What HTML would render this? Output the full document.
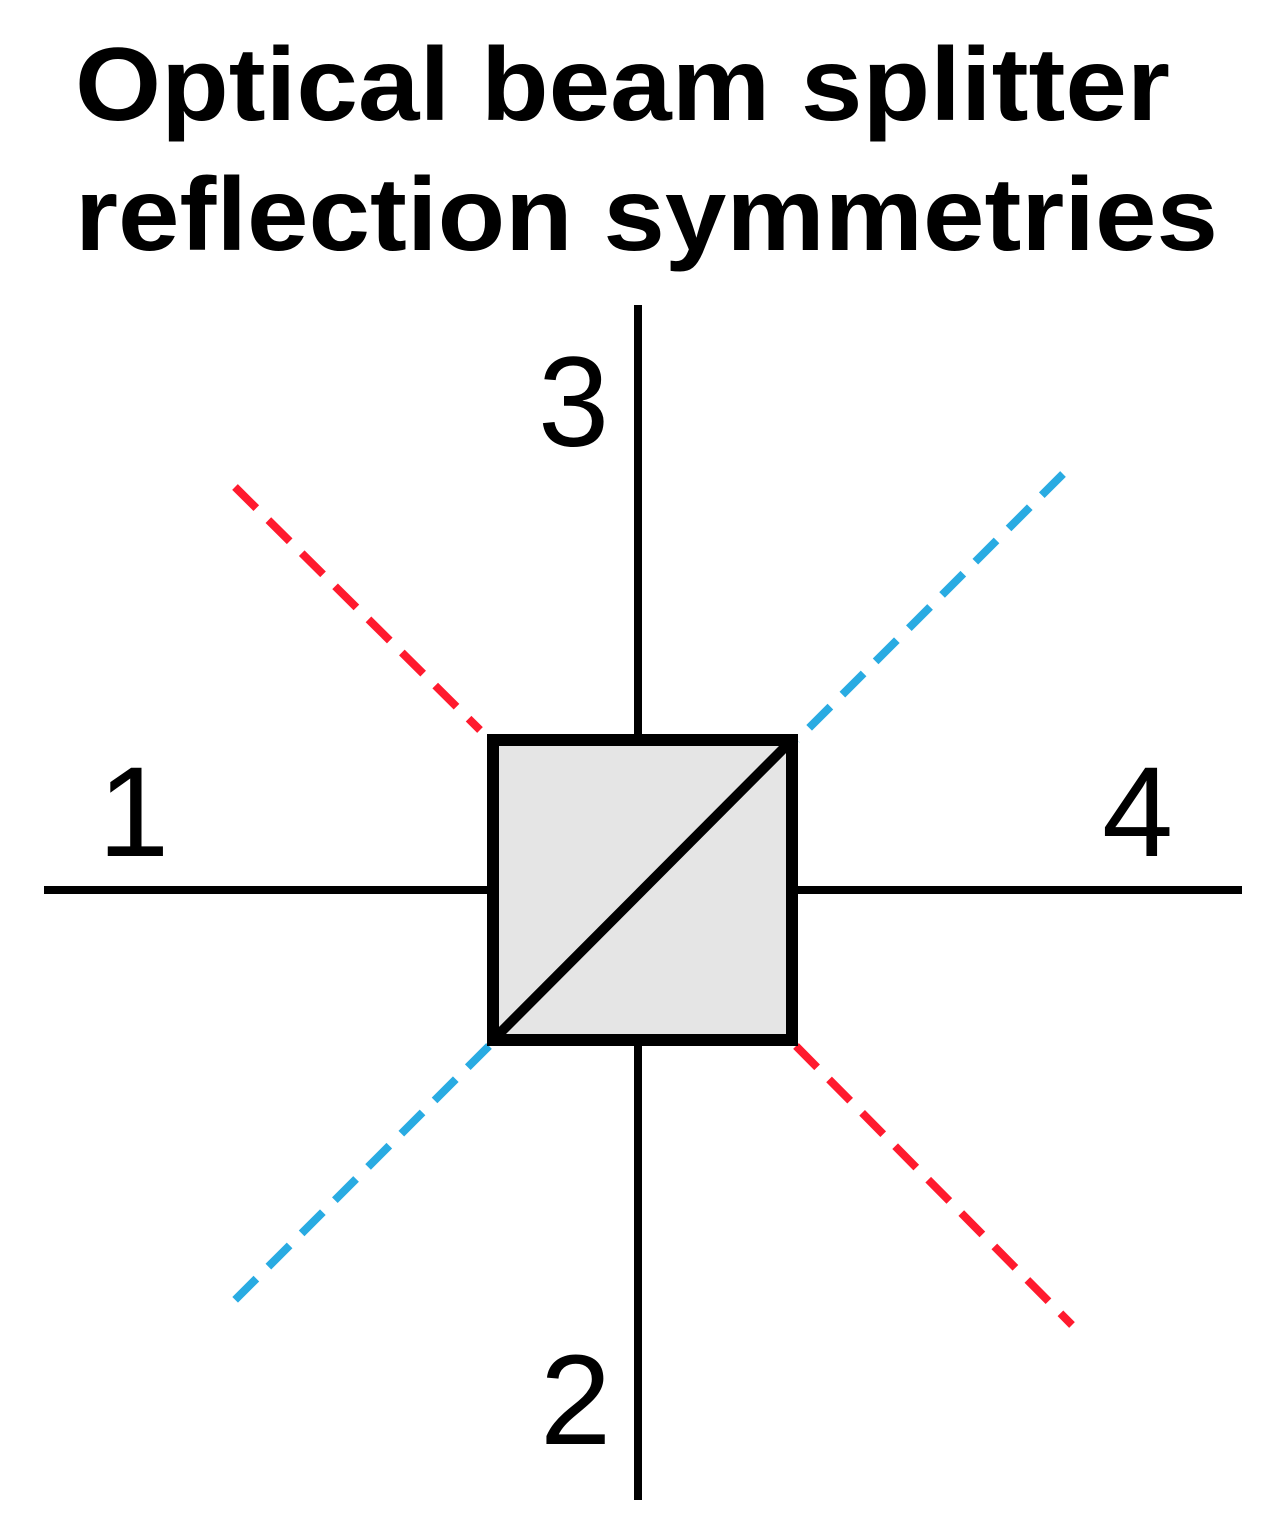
<!DOCTYPE html>
<html><head><style>html,body{margin:0;padding:0;background:#fff}</style></head>
<body>
<svg width="1265" height="1530" viewBox="0 0 1265 1530" xmlns="http://www.w3.org/2000/svg">
<text x="75" y="120" font-family="Liberation Sans, Arial, sans-serif" font-weight="bold" font-size="104" textLength="1095" lengthAdjust="spacingAndGlyphs">Optical beam splitter</text>
<text x="75" y="250" font-family="Liberation Sans, Arial, sans-serif" font-weight="bold" font-size="104" textLength="1143" lengthAdjust="spacingAndGlyphs">reflection symmetries</text>
<line x1="638" y1="305" x2="638" y2="1500" stroke="#000" stroke-width="8"/>
<line x1="44" y1="890" x2="1242" y2="890" stroke="#000" stroke-width="8"/>
<g stroke-width="8" stroke-dasharray="30 17" fill="none">
<line x1="235" y1="487" x2="480" y2="730" stroke="#ff1a2e"/>
<line x1="796" y1="1046" x2="1072" y2="1325" stroke="#ff1a2e"/>
<line x1="1063" y1="474" x2="797" y2="740" stroke="#29abe2"/>
<line x1="489" y1="1046" x2="225" y2="1310" stroke="#29abe2"/>
</g>
<rect x="493" y="740" width="299" height="300" fill="#e5e5e5" stroke="#000" stroke-width="12"/>
<line x1="493" y1="1040" x2="792" y2="740" stroke="#000" stroke-width="10"/>
<g font-family="Liberation Sans, Arial, sans-serif" font-size="128">
<text x="538" y="446">3</text>
<text x="98" y="856">1</text>
<text x="1102" y="856">4</text>
<text x="540" y="1444">2</text>
</g>
</svg>
</body></html>
